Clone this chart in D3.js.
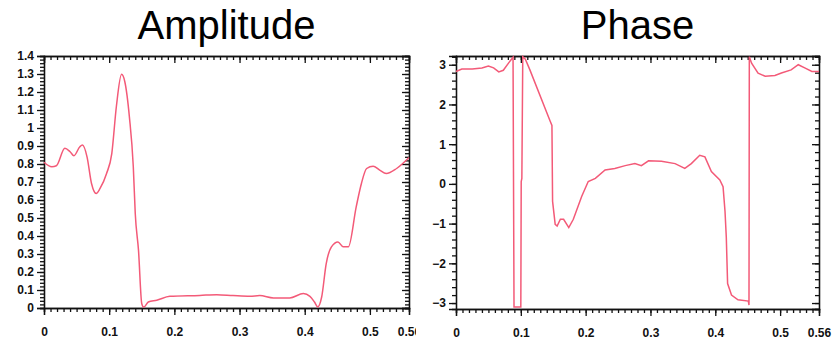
<!DOCTYPE html>
<html lang="en">
<head>
<meta charset="UTF-8">
<title>Amplitude and Phase</title>
<script src="https://d3js.org/d3.v7.min.js"></script>
<style>
    body { margin: 0; background: #fff; }
    svg { display: block; font-family: "Liberation Sans", Arial, sans-serif; }
    .title { font-size: 40px; }
    .axis text { font-size: 12px; font-weight: bold; fill: #111; }
    .axis path, .axis line { stroke: #111; stroke-width: 1.3; }
</style>
</head>
<body>
<div id="chart"></div>
<script>
// amplitude curve
var ampX = [0, 0.012, 0.019, 0.032, 0.04, 0.046, 0.055, 0.059, 0.066, 0.073, 0.08, 0.086, 0.096, 0.104,
    0.111, 0.119, 0.124, 0.131, 0.137, 0.14, 0.145, 0.15, 0.153, 0.16, 0.173, 0.193, 0.239, 0.265,
    0.29, 0.316, 0.331, 0.352, 0.377, 0.398, 0.408, 0.415, 0.42, 0.426, 0.433, 0.441, 0.451, 0.459,
    0.467, 0.479, 0.487, 0.495, 0.505, 0.515, 0.525, 0.541, 0.56];
var ampY = [0.81, 0.785, 0.79, 0.887, 0.868, 0.846, 0.896, 0.905, 0.84, 0.69, 0.636, 0.664, 0.747, 0.858,
    1.118, 1.298, 1.257, 1.062, 0.785, 0.525, 0.32, 0.024, 0.005, 0.033, 0.043, 0.065, 0.07, 0.074,
    0.069, 0.065, 0.069, 0.056, 0.056, 0.08, 0.065, 0.033, 0.006, 0.061, 0.247, 0.34, 0.367, 0.34,
    0.34, 0.562, 0.692, 0.775, 0.788, 0.766, 0.747, 0.775, 0.836];

// phase curve (wrapped)
var phaseX = [0, 0.009, 0.025, 0.04, 0.05, 0.058, 0.066, 0.073, 0.081, 0.088, 0.0895, 0.0915, 0.1, 0.1006,
    0.1016, 0.103, 0.107, 0.114, 0.145, 0.148, 0.149, 0.153, 0.156, 0.161, 0.166, 0.174, 0.181, 0.194,
    0.204, 0.215, 0.23, 0.245, 0.261, 0.276, 0.286, 0.297, 0.317, 0.338, 0.353, 0.363, 0.376, 0.384,
    0.394, 0.407, 0.412, 0.415, 0.417, 0.419, 0.425, 0.435, 0.451, 0.452, 0.4525, 0.456, 0.466, 0.477,
    0.492, 0.502, 0.517, 0.528, 0.538, 0.549, 0.56];
var phaseY = [2.83, 2.89, 2.89, 2.92, 2.97, 2.92, 2.82, 2.86, 3.04, 3.19, -3.1, -3.1, -3.1, 0.06,
    0.14, 3.2, 3.14, 2.87, 1.59, 1.47, -0.44, -1.02, -1.06, -0.89, -0.89, -1.1, -0.89, -0.31,
    0.06, 0.14, 0.35, 0.39, 0.46, 0.51, 0.46, 0.58, 0.57, 0.51, 0.39, 0.51, 0.72, 0.68,
    0.31, 0.1, -0.07, -0.69, -1.35, -2.51, -2.8, -2.92, -2.95, -3.05, 3.2, 3.04, 2.79, 2.71,
    2.73, 2.79, 2.87, 3.0, 2.92, 2.83, 2.83];

var xTicks = [0, 0.1, 0.2, 0.3, 0.4, 0.5, 0.56];
var ampYTicks = [0, 0.1, 0.2, 0.3, 0.4, 0.5, 0.6, 0.7, 0.8, 0.9, 1, 1.1, 1.2, 1.3, 1.4];
var phaseYTicks = [-3, -2, -1, 0, 1, 2, 3];

var W = 832, H = 343;
var svg = d3.select("#chart").append("svg").attr("width", W).attr("height", H);

svg.append("clipPath").attr("id", "leftClip")
    .append("rect").attr("x", 0).attr("y", 0).attr("width", 416).attr("height", H);

function panel(g, opt) {
    var x = d3.scaleLinear().domain(opt.xDomain).range([opt.left, opt.right]);
    var y = d3.scaleLinear().domain(opt.yDomain).range([opt.bottom, opt.top]);

    var xMinor = d3.range(0, 0.5601, 0.01);
    var fmt = d3.format("~g");

    // minor ticks first
    g.append("g").attr("class", "axis").attr("transform", `translate(0,${opt.bottom})`)
        .call(d3.axisBottom(x).tickValues(xMinor).tickSize(4).tickFormat(""));
    g.append("g").attr("class", "axis").attr("transform", `translate(0,${opt.top})`)
        .call(d3.axisTop(x).tickValues(xMinor).tickSize(-4).tickFormat(""));
    g.append("g").attr("class", "axis").attr("transform", `translate(${opt.left},0)`)
        .call(d3.axisLeft(y).tickValues(opt.yMinor).tickSize(4).tickFormat(""));
    g.append("g").attr("class", "axis").attr("transform", `translate(${opt.right},0)`)
        .call(d3.axisRight(y).tickValues(opt.yMinor).tickSize(-4).tickFormat(""));

    // major ticks with labels
    g.append("g").attr("class", "axis").attr("transform", `translate(0,${opt.bottom})`)
        .call(d3.axisBottom(x).tickValues(opt.xTicks).tickSize(7).tickPadding(12).tickFormat(fmt));
    g.append("g").attr("class", "axis").attr("transform", `translate(0,${opt.top})`)
        .call(d3.axisTop(x).tickValues(opt.xTicks).tickSize(-7).tickFormat(""));
    g.append("g").attr("class", "axis").attr("transform", `translate(${opt.left},0)`)
        .call(d3.axisLeft(y).tickValues(opt.yTicks).tickSize(7).tickPadding(3).tickFormat(fmt));
    g.append("g").attr("class", "axis").attr("transform", `translate(${opt.right},0)`)
        .call(d3.axisRight(y).tickValues(opt.yTicks).tickSize(-7).tickFormat(""));

    g.selectAll(".axis path.domain").attr("stroke-width", 2.2);

    g.append("text").attr("class", "title")
        .attr("x", (opt.left + opt.right) / 2).attr("y", 39)
        .attr("text-anchor", "middle")
        .text(opt.title);

    var line = d3.line()
        .x(function(d) { return x(d[0]); })
        .y(function(d) { return y(d[1]); })
        .curve(opt.curve);

    g.append("path")
        .datum(d3.zip(opt.xs, opt.ys))
        .attr("fill", "none")
        .attr("stroke", "#f35a78")
        .attr("stroke-width", 1.5)
        .attr("d", line);
}

panel(svg.append("g").attr("clip-path", "url(#leftClip)"), {
    title: "Amplitude",
    left: 44, right: 409, top: 56, bottom: 308,
    xDomain: [0, 0.56], yDomain: [0, 1.4],
    xTicks: xTicks, yTicks: ampYTicks,
    yMinor: d3.range(0, 1.401, 0.02),
    xs: ampX, ys: ampY,
    curve: d3.curveMonotoneX
});

panel(svg.append("g"), {
    title: "Phase",
    left: 456, right: 819, top: 56, bottom: 309,
    xDomain: [0, 0.56], yDomain: [-3.15, 3.22],
    xTicks: xTicks, yTicks: phaseYTicks,
    yMinor: d3.range(-3.0, 3.201, 0.2),
    xs: phaseX, ys: phaseY,
    curve: d3.curveLinear
});
</script>
</body>
</html>
